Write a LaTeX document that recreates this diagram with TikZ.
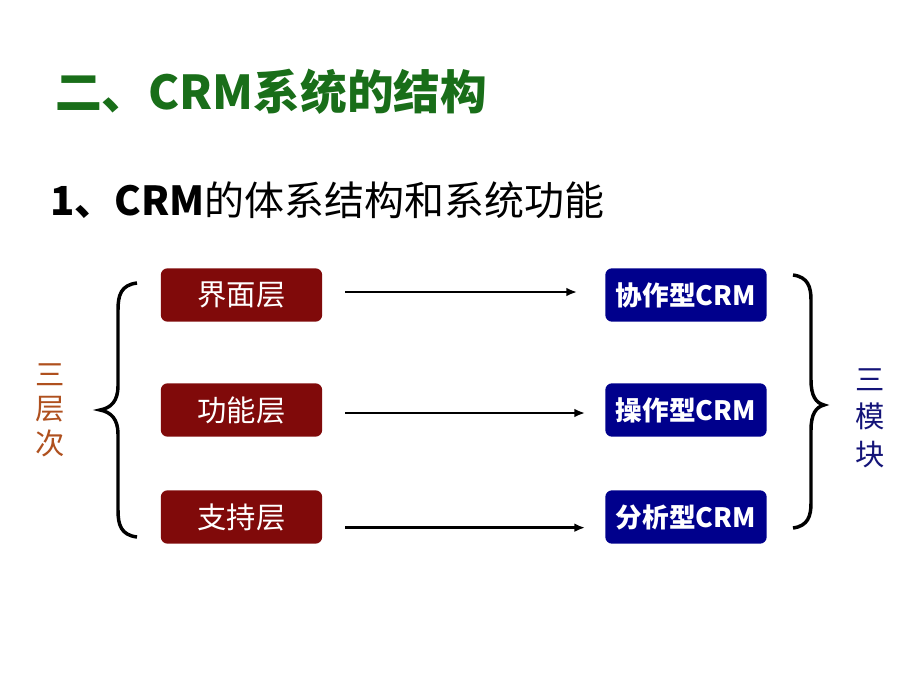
\documentclass[tikz,border=0pt]{standalone}
\usepackage{fontspec}
\usepackage{xcolor}
\usepackage{tikz}
\usetikzlibrary{arrows.meta}
\newfontfamily\cjk{Noto Sans CJK SC}

\definecolor{titulo}{RGB}{25,110,25}
\definecolor{capa}{RGB}{128,10,10}
\definecolor{modulo}{RGB}{0,0,140}
\definecolor{naranja}{RGB}{175,80,30}
\definecolor{azul}{RGB}{20,20,120}

\begin{document}
\begin{tikzpicture}[x = 0.75pt, y = -0.75pt,
    capabox/.style = {fill=capa, rounded corners=5pt, minimum width=121pt, minimum height=40pt,
                      text=white, font=\cjk\fontsize{22}{26}\selectfont},
    modbox/.style = {fill=modulo, rounded corners=5pt, minimum width=121pt, minimum height=40pt,
                     text=white, font=\cjk\bfseries\fontsize{20}{24}\selectfont},
    flecha/.style = {line width=2pt, -{Latex[length=8pt,width=6.5pt]}},
    llave/.style = {line width=2.6pt}]
            % Marco
            \useasboundingbox (0,0) rectangle (920,690);
            % Titulos
            \node[anchor=west, inner sep=0, text=titulo, font=\cjk\bfseries\fontsize{35}{40}\selectfont] (titulo) at (55,92) {二、CRM系统的结构};
            \node[anchor=west, inner sep=0, font=\cjk\fontsize{30}{36}\selectfont] (subtitulo) at (50,200) {\textbf{1、CRM}的体系结构和系统功能};
            % Capas
            \node[capabox] (interfaz) at (241.5,295) {界面层};
            \node[capabox] (funcion) at (241.5,410) {功能层};
            \node[capabox] (soporte) at (241.5,517) {支持层};
            % Modulos
            \node[modbox] (colab) at (686,295) {协作型CRM};
            \node[modbox] (operat) at (686,410) {操作型CRM};
            \node[modbox] (analit) at (686,517) {分析型CRM};
            % Flechas
            \draw[flecha, shorten <=17pt, shorten >=21pt] ([yshift=2.25pt]interfaz.east) -- ([yshift=2.25pt]colab.west);
            \draw[flecha, shorten <=17pt, shorten >=15pt] ([yshift=-2.25pt]funcion.east) -- ([yshift=-2.25pt]operat.west);
            \draw[flecha, shorten <=17pt, shorten >=15pt] ([yshift=-8pt]soporte.east) -- ([yshift=-8pt]analit.west);
            % Llaves
            \draw[llave] (137,283) .. controls (121,285) and (118,295) .. (118,310) -- (118,386)
                .. controls (118,401) and (111,408) .. (100,410)
                .. controls (111,412) and (118,419) .. (118,434) -- (118,510)
                .. controls (118,525) and (121,535) .. (137,537);
            \draw[llave] (793,275) .. controls (808,277) and (811,287) .. (811,300) -- (811,380)
                .. controls (811,396) and (816,403) .. (824,405)
                .. controls (816,407) and (811,414) .. (811,430) -- (811,503)
                .. controls (811,516) and (808,526) .. (793,528);
            % Etiquetas laterales
            \node[text=naranja, align=center, font=\cjk\fontsize{22}{26}\selectfont] (capas) at (50,410) {三\\层\\次};
            \node[text=azul, align=center, font=\cjk\fontsize{22}{28}\selectfont] (modulos) at (870,418) {三\\模\\块};
\end{tikzpicture}
\end{document}
